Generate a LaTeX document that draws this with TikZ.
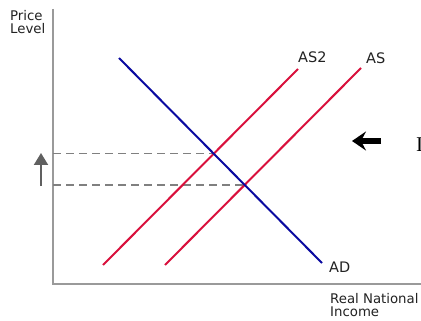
\documentclass[tikz,border=0pt]{standalone}
\usepackage{fontspec}
\setmainfont{DejaVu Sans}
\newfontfamily\serifI{Liberation Serif}
\usetikzlibrary{arrows.meta,intersections}
\definecolor{axisgray}{HTML}{9A9A9A}
\definecolor{dashgray}{HTML}{808080}
\definecolor{arrowgray}{HTML}{606060}
\definecolor{asred}{HTML}{D9103C}
\definecolor{adblue}{HTML}{0A0AA0}
\definecolor{txt}{HTML}{222222}
\begin{document}
\begin{tikzpicture}[x=1pt,y=-1pt,
  axis/.style={draw=axisgray,line width=2pt},
  guide/.style={draw=dashgray,line width=1.3pt,dash pattern=on 8pt off 5pt},
  ascurve/.style={draw=asred,line width=2pt},
  adcurve/.style={draw=adblue,line width=2pt},
  lbl/.style={font=\fontsize{13.3}{13}\selectfont,text=txt,inner sep=0pt,anchor=base west},
  curvelbl/.style={font=\fontsize{14.5}{15}\selectfont,text=txt,inner sep=0pt,anchor=base west},
  ]
\useasboundingbox (0,0) rectangle (421,321);
\clip (0,0) rectangle (421,321);
\fill[white] (0,0) rectangle (421,321);
% axes
\coordinate (ytop) at (53,9);
\coordinate (orig) at (53,284);
\coordinate (xend) at (421,284);
\draw[axis] (ytop) -- (orig) -- (xend);
% curves
\coordinate (ad1) at (119,58);
\coordinate (ad2) at (322,263);
\coordinate (as2a) at (103,265);
\coordinate (as2b) at (298,69);
\coordinate (asa) at (165,265);
\coordinate (asb) at (361,68);
\path[name path=adp] (ad1) -- (ad2);
\path[name path=as2p] (as2a) -- (as2b);
\path[name path=asp] (asa) -- (asb);
\path[name intersections={of=adp and as2p,by=e1}];
\path[name intersections={of=adp and asp,by=e2}];
\draw[guide] (orig |- e1) -- (e1);
\draw[guide] (orig |- e2) -- (e2);
\draw[ascurve] (as2a) -- (as2b);
\draw[ascurve] (asa) -- (asb);
\draw[adcurve] (ad1) -- (ad2);
% labels
\node[lbl,align=left] (plabel) at (10,34) {Price\\Level};
\node[lbl,align=left] (xlabel) at (330,316) {Real National\\Income};
\node[curvelbl] (as2lbl) at (298,63) {AS2};
\node[curvelbl] (aslbl) at (366,64) {AS};
\node[curvelbl] (adlbl) at (329,272) {AD};
% arrows
\coordinate (upbot) at (41,186);
\coordinate (uptop) at (41,153);
\draw[arrowgray,line width=2pt,-{Triangle[length=12pt,width=14pt]}] (upbot) -- (uptop);
\coordinate (lfrom) at (381,141);
\coordinate (lto) at (352,141);
\draw[black,line width=5.5pt,-{Stealth[length=14pt,width=19pt,inset=5pt]}] (lfrom) -- (lto);
\node[font=\serifI\fontsize{21}{21}\selectfont,anchor=base west,inner sep=0pt] (cutI) at (416,151) {I};
\end{tikzpicture}
\end{document}
